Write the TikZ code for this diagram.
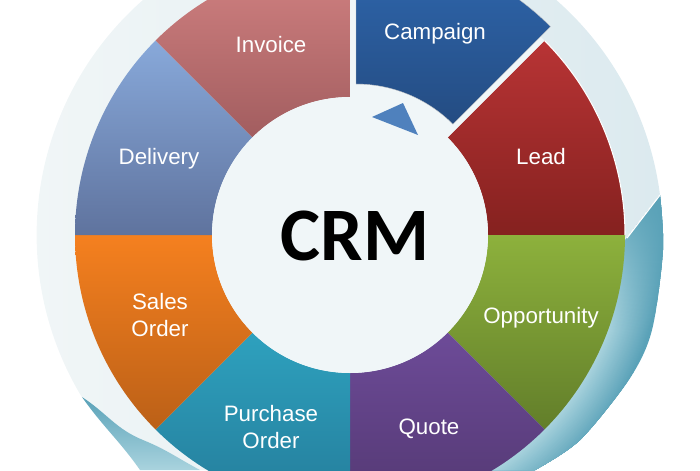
\documentclass[tikz,border=0pt]{standalone}
\usepackage{fontspec}
\setmainfont{Liberation Sans}
\newfontfamily\crmfont{Carlito}
\usetikzlibrary{fadings}
\definecolor{discpale}{HTML}{F1F6F7}
\definecolor{discblue}{HTML}{DCEAEF}
\definecolor{hubcol}{HTML}{F0F6F8}
\definecolor{tealdark}{HTML}{5AA2B8}
\definecolor{teallight}{HTML}{A9D3DE}
\definecolor{camptop}{HTML}{2F68B0}
\definecolor{campbot}{HTML}{244C82}
\definecolor{leadtop}{HTML}{B83435}
\definecolor{leadbot}{HTML}{85211F}
\definecolor{opptop}{HTML}{8DB13C}
\definecolor{oppbot}{HTML}{627E2A}
\definecolor{quotetop}{HTML}{6D4B98}
\definecolor{quotebot}{HTML}{533872}
\definecolor{purchtop}{HTML}{2EA1BE}
\definecolor{purchbot}{HTML}{247C9A}
\definecolor{salestop}{HTML}{F5801F}
\definecolor{salesbot}{HTML}{BB6017}
\definecolor{delivtop}{HTML}{88A9DA}
\definecolor{delivbot}{HTML}{5F739E}
\definecolor{invtop}{HTML}{D28282}
\definecolor{invbot}{HTML}{A25D5F}
\definecolor{arrowcol}{HTML}{4F81BD}
\tikzset{
	seglabel/.style={text=white,align=center,inner sep=0pt,font=\fontsize{12.7}{15.1}\selectfont},
	crmlabel/.style={text=black,inner sep=0pt,font=\crmfont\bfseries\fontsize{43}{43}\selectfont}
}

\begin{document}
\begin{tikzpicture}
	\useasboundingbox (0,0) rectangle (14,9.4);
	\clip (0,0) rectangle (14,9.4);

	% pale disc and its curled edges
	\path[left color=discpale,right color=discblue] (13.2,5.5) arc (7.35:211.15:6.26) to[out=-33,in=158] (2.86,.6) to[out=-22,in=152] (4,0) -- (9,0) -- (12.54,4.64) -- cycle;
	\path[top color=tealdark,bottom color=teallight] (1.64,1.46) to[out=-33,in=158] (2.86,.6) to[out=-22,in=152] (4,0) -- (2.8,0) to[out=125,in=-55] (1.64,1.46) -- cycle;
	\begin{scope}
		\clip plot[smooth] coordinates {(13.2,5.5) (13.26,4.4) (13.04,2.8) (12.6,1.84) (11.6,.6) (10.7,0)} -- (9,0) -- (12.54,4.64) -- cycle;
		\fill[tealdark] (7,4.7) circle (6.5);
		\foreach \i in {0,...,40}{
			\pgfmathsetmacro{\r}{6.3-\i*.02}
			\pgfmathsetmacro{\m}{100-\i*2.5}
			\fill[tealdark!\m!teallight] (7,4.7) circle (\r);
		}
		\fill[tealdark,path fading=south] (12,5.6) rectangle (13.4,2.8);
	\end{scope}
	\draw[white,line width=.7pt] (12.54,4.64) -- (13.2,5.5);

	% ring
	\foreach \a/\seg in {0/lead,-45/opp,-90/quote,-135/purch,-180/sales,-225/deliv,-270/inv}{
		\pgfmathsetmacro{\b}{\a+45}
		\path[shift={(7,4.7)},top color=\seg top,bottom color=\seg bot] (\a:2.76) arc (\a:\b:2.76) -- (\b:5.5) arc (\b:\a:5.5) -- cycle;
	}
	\draw[shift={(7,4.7)},white,line width=.6pt] (0:5.5) arc (0:45:5.5);
	\fill[hubcol] (7,4.7) circle (2.76);

	% campaign sits off the ring
	\fill[shift={(7,4.7)},hubcol] (0,0) -- (45:5.5) arc (45:90:5.5) -- cycle;
	\path[shift={(7.12,4.98)},top color=camptop,bottom color=campbot,draw=gray!45,line width=.2pt] (45:2.74) arc (45:90:2.74) -- (90:5.5) arc (90:45:5.5) -- cycle;
	\fill[arrowcol] (7.44,7.06) -- (8.06,7.34) -- (8.36,6.7) -- cycle;

	\node[seglabel] (campaign) at (8.7,8.72) {Campaign};
	\node[seglabel] (lead) at (10.82,6.26) {Lead};
	\node[seglabel] (opportunity) at (10.82,3.04) {Opportunity};
	\node[seglabel] (quote) at (8.58,.82) {Quote};
	\node[seglabel] (purchase) at (5.42,.86) {Purchase\\Order};
	\node[seglabel] (sales) at (3.2,3.1) {Sales\\Order};
	\node[seglabel] (delivery) at (3.18,6.22) {Delivery};
	\node[seglabel] (invoice) at (5.42,8.5) {Invoice};
	\node[crmlabel] (crm) at (7.1,4.68) {CRM};
\end{tikzpicture}
\end{document}
